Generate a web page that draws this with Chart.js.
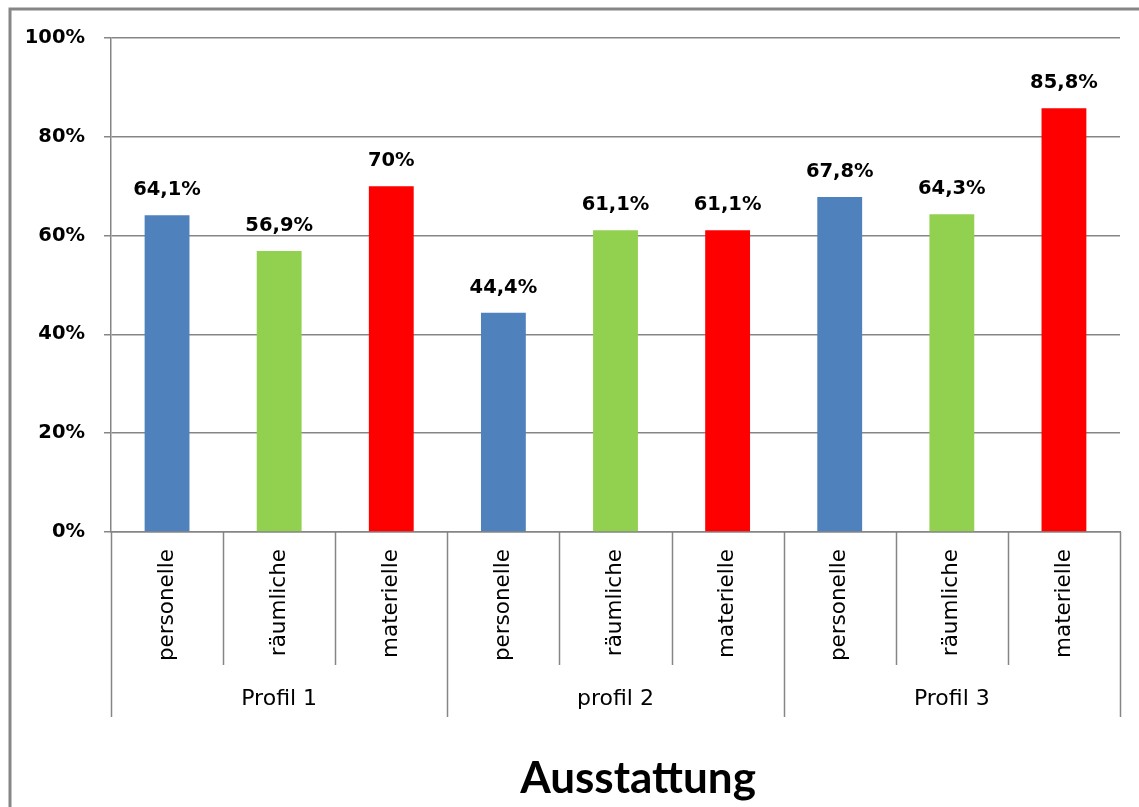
<!DOCTYPE html>
<html>
<head>
<meta charset="utf-8">
<script src="https://cdn.jsdelivr.net/npm/chart.js@4/dist/chart.umd.min.js"></script>
<style>
  html, body { margin: 0; padding: 0; background: #fff; }
  #wrap { width: 1139px; height: 807px; position: relative; }
</style>
</head>
<body>
<div id="wrap"><canvas id="chart"></canvas></div>
<script>
const categories = ["personelle", "räumliche", "materielle",
                    "personelle", "räumliche", "materielle",
                    "personelle", "räumliche", "materielle"];
const groups = ["Profil 1", "profil 2", "Profil 3"];
const values = [64.1, 56.9, 70, 44.4, 61.1, 61.1, 67.8, 64.3, 85.8];
const chartTitle = "Ausstattung";

const gray = "#868686";
const barColors = ["#4F81BD", "#92D050", "#FF0000"];

function pct(v) {
  return v.toLocaleString("de-DE") + "%";
}

// group labels, separators, value labels, title, frame
const extras = {
  id: "extras",
  afterDraw(chart) {
    const ctx = chart.ctx;
    const x = chart.scales.x;
    const area = chart.chartArea;
    const n = categories.length;
    const per = n / groups.length;

    ctx.save();
    ctx.strokeStyle = gray;
    ctx.lineWidth = 1.5;
    for (let i = 0; i <= n; i++) {
      let px;
      if (i === 0) px = area.left;
      else if (i === n) px = area.right;
      else px = (x.getPixelForValue(i - 1) + x.getPixelForValue(i)) / 2;
      const end = i % per === 0 ? 717 : 665;
      ctx.beginPath();
      ctx.moveTo(Math.round(px) + 0.5, area.bottom);
      ctx.lineTo(Math.round(px) + 0.5, end);
      ctx.stroke();
    }

    ctx.fillStyle = "#000";
    ctx.font = "22px 'DejaVu Sans'";
    ctx.textAlign = "center";
    ctx.textBaseline = "middle";
    groups.forEach((g, k) => {
      const a = x.getPixelForValue(k * per);
      const b = x.getPixelForValue(k * per + per - 1);
      ctx.fillText(g, (a + b) / 2, 699);
    });

    const meta = chart.getDatasetMeta(0);
    ctx.font = "bold 19.5px 'DejaVu Sans'";
    ctx.textBaseline = "alphabetic";
    meta.data.forEach((bar, i) => {
      ctx.fillText(pct(values[i]), bar.x, bar.y - 20);
    });

    ctx.font = "bold 44px Lato";
    ctx.fillText(chartTitle, 638, 793);

    ctx.lineWidth = 3;
    ctx.beginPath();
    ctx.moveTo(10, 820);
    ctx.lineTo(10, 9);
    ctx.lineTo(1150, 9);
    ctx.stroke();
    ctx.restore();
  }
};

new Chart(document.getElementById("chart"), {
  type: "bar",
  data: {
    labels: categories,
    datasets: [{
      data: values,
      backgroundColor: values.map((v, i) => barColors[i % 3]),
      barPercentage: 0.4,
      categoryPercentage: 1.0
    }]
  },
  options: {
    responsive: true,
    maintainAspectRatio: false,
    animation: false,
    layout: { padding: { top: 38, right: 19, left: 0, bottom: 0 } },
    plugins: {
      legend: { display: false },
      tooltip: { enabled: false },
      title: { display: false }
    },
    scales: {
      x: {
        grid: { display: false },
        border: { display: true, color: gray, width: 1.5 },
        ticks: {
          autoSkip: false,
          maxRotation: 90,
          minRotation: 90,
          padding: 9,
          color: "#000",
          font: { family: "'DejaVu Sans'", size: 21.5 }
        },
        afterFit(scale) { scale.height = 275; }
      },
      y: {
        min: 0,
        max: 100,
        ticks: {
          stepSize: 20,
          padding: 19,
          color: "#000",
          font: { family: "'DejaVu Sans'", size: 19.5, weight: "bold" },
          callback: (v) => v + "%"
        },
        grid: { color: gray, lineWidth: 1.5, tickLength: 7 },
        border: { color: gray, width: 1.5 },
        afterFit(scale) { scale.width = 111; }
      }
    }
  },
  plugins: [extras]
});
</script>
</body>
</html>
